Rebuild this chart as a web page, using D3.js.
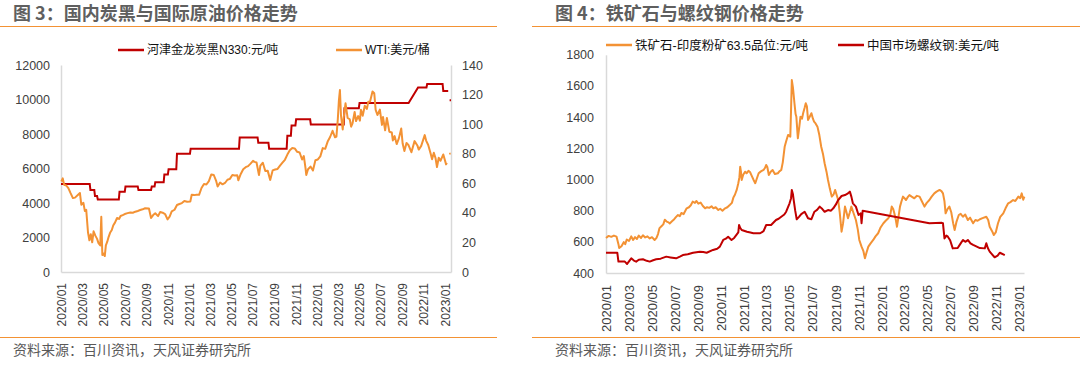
<!DOCTYPE html>
<html><head><meta charset="utf-8">
<script src="https://cdn.jsdelivr.net/npm/d3@7"></script>
<style>
body{margin:0;background:#fff;}
svg{display:block;font-family:"Liberation Sans",Arial,"Noto Sans CJK SC",sans-serif;}
</style></head><body><svg id="c" width="1080" height="366"></svg>
<script>
// ---------- DATA ----------
const monthTicks = ["2020/01","2020/03","2020/05","2020/07","2020/09","2020/11","2021/01","2021/03","2021/05","2021/07","2021/09","2021/11","2022/01","2022/03","2022/05","2022/07","2022/09","2022/11","2023/01"];
const carbonTicks = [0,2000,4000,6000,8000,10000,12000];
const wtiTicks = [0,20,40,60,80,100,120,140];
const ironTicks = [400,600,800,1000,1200,1400,1600,1800];

const leftTitle = "图 3：国内炭黑与国际原油价格走势";
const rightTitle = "图 4：铁矿石与螺纹钢价格走势";
const sourceText = "资料来源：百川资讯，天风证券研究所";
const carbonName = "河津金龙炭黑N330:元/吨";
const wtiName = "WTI:美元/桶";
const ironName = "铁矿石-印度粉矿63.5品位:元/吨";
const rebarName = "中国市场螺纹钢:美元/吨";

// 河津金龙炭黑N330 (元/吨)
const carbonBlack = [["2020-01-01",5100],["2020-03-23",5100],["2020-03-25",4750],["2020-04-05",4750],["2020-04-07",4400],["2020-04-13",4400],["2020-04-15",4200],["2020-06-14",4200],["2020-06-16",4650],["2020-07-01",4650],["2020-07-03",4950],["2020-08-07",4950],["2020-08-09",4750],["2020-09-14",4750],["2020-09-16",4950],["2020-09-24",4950],["2020-09-26",5200],["2020-10-20",5200],["2020-10-22",5650],["2020-11-01",5650],["2020-11-03",5950],["2020-11-25",5950],["2020-11-27",6850],["2021-01-03",6850],["2021-01-05",7150],["2021-05-23",7150],["2021-05-25",7800],["2021-07-15",7800],["2021-07-17",7500],["2021-08-15",7500],["2021-08-17",7150],["2021-10-06",7150],["2021-10-08",7900],["2021-10-18",7900],["2021-10-20",8500],["2021-10-31",8500],["2021-11-02",8850],["2021-12-12",8850],["2021-12-14",8550],["2022-03-18",8550],["2022-03-20",9500],["2022-04-30",9500],["2022-05-02",9800],["2022-09-19",9800],["2022-10-16",10700],["2022-11-09",10700],["2022-11-11",10900],["2022-12-25",10900],["2022-12-27",10500],["2023-01-10",10500],["2023-01-12",null],["2023-01-14",9950],["2023-01-18",9950]];

// WTI (美元/桶)
const wti = [["2020-01-02",61.2],["2020-01-06",63.3],["2020-01-10",59.0],["2020-01-16",58.5],["2020-01-22",56.7],["2020-01-28",53.5],["2020-02-04",50.0],["2020-02-10",50.3],["2020-02-18",52.1],["2020-02-24",53.4],["2020-02-28",45.5],["2020-03-05",46.8],["2020-03-09",41.3],["2020-03-13",42.0],["2020-03-18",26.9],["2020-03-22",21.5],["2020-03-26",25.5],["2020-03-30",20.1],["2020-04-03",27.5],["2020-04-08",24.6],["2020-04-13",22.4],["2020-04-17",19.5],["2020-04-22",18.0],["2020-04-25",37.4],["2020-04-28",11.5],["2020-05-02",12.5],["2020-05-05",10.8],["2020-05-08",18.0],["2020-05-12",20.5],["2020-05-16",23.8],["2020-05-20",26.5],["2020-05-25",28.4],["2020-05-29",31.5],["2020-06-03",33.4],["2020-06-09",36.5],["2020-06-15",35.9],["2020-06-19",37.9],["2020-06-25",38.5],["2020-07-01",39.2],["2020-07-09",39.8],["2020-07-17",40.3],["2020-07-24",40.1],["2020-07-31",40.8],["2020-08-07",41.3],["2020-08-14",41.9],["2020-08-21",42.4],["2020-08-28",43.1],["2020-09-08",43.0],["2020-09-14",36.5],["2020-09-20",38.5],["2020-09-26",39.7],["2020-10-04",37.8],["2020-10-10",40.6],["2020-10-17",40.1],["2020-10-24",39.2],["2020-10-31",35.6],["2020-11-06",37.5],["2020-11-12",41.0],["2020-11-20",42.1],["2020-11-27",45.3],["2020-12-04",46.0],["2020-12-11",46.6],["2020-12-18",48.0],["2020-12-26",47.5],["2021-01-04",47.6],["2021-01-08",52.2],["2021-01-15",52.0],["2021-01-22",52.3],["2021-01-29",52.2],["2021-02-05",56.8],["2021-02-12",59.5],["2021-02-19",59.2],["2021-02-26",61.5],["2021-03-05",66.0],["2021-03-12",65.6],["2021-03-19",61.4],["2021-03-23",57.8],["2021-03-30",60.5],["2021-04-06",59.3],["2021-04-13",60.2],["2021-04-20",62.4],["2021-04-27",63.0],["2021-05-04",65.6],["2021-05-11",65.3],["2021-05-18",65.5],["2021-05-21",62.0],["2021-05-28",66.3],["2021-06-04",69.5],["2021-06-11",70.9],["2021-06-18",71.6],["2021-06-25",73.3],["2021-07-02",75.2],["2021-07-06",74.5],["2021-07-12",74.1],["2021-07-19",65.6],["2021-07-23",72.0],["2021-07-30",73.9],["2021-08-06",68.3],["2021-08-13",68.4],["2021-08-20",62.3],["2021-08-27",68.7],["2021-09-03",69.3],["2021-09-10",69.7],["2021-09-17",71.9],["2021-09-24",73.9],["2021-10-01",75.9],["2021-10-08",79.4],["2021-10-15",82.3],["2021-10-22",83.8],["2021-10-29",83.6],["2021-11-05",81.3],["2021-11-12",80.8],["2021-11-19",76.1],["2021-11-24",78.4],["2021-11-29",69.9],["2021-12-01",65.6],["2021-12-06",69.5],["2021-12-13",71.3],["2021-12-20",68.6],["2021-12-27",75.6],["2022-01-03",76.1],["2022-01-10",78.2],["2022-01-17",83.8],["2022-01-24",83.3],["2022-01-31",88.2],["2022-02-07",91.3],["2022-02-14",95.5],["2022-02-21",91.1],["2022-02-25",91.6],["2022-03-01",103.4],["2022-03-04",115.7],["2022-03-07",123.1],["2022-03-10",106.0],["2022-03-15",96.4],["2022-03-18",104.7],["2022-03-23",114.1],["2022-03-29",104.2],["2022-04-04",103.3],["2022-04-08",98.3],["2022-04-12",100.6],["2022-04-18",108.2],["2022-04-22",102.1],["2022-04-28",105.4],["2022-05-03",102.4],["2022-05-06",109.8],["2022-05-11",105.7],["2022-05-17",112.4],["2022-05-23",110.3],["2022-05-27",115.1],["2022-06-01",115.3],["2022-06-08",122.1],["2022-06-13",120.9],["2022-06-17",109.6],["2022-06-22",106.2],["2022-06-29",109.8],["2022-07-05",99.5],["2022-07-08",104.8],["2022-07-14",95.8],["2022-07-19",104.2],["2022-07-26",94.9],["2022-08-02",94.4],["2022-08-05",89.0],["2022-08-10",91.9],["2022-08-16",86.5],["2022-08-22",90.2],["2022-08-29",97.0],["2022-09-02",86.9],["2022-09-07",81.9],["2022-09-13",87.3],["2022-09-19",85.7],["2022-09-27",81.0],["2022-10-06",88.5],["2022-10-14",85.6],["2022-10-18",82.8],["2022-10-25",85.3],["2022-11-04",92.6],["2022-11-08",88.9],["2022-11-14",85.9],["2022-11-21",80.0],["2022-11-25",76.3],["2022-11-30",80.6],["2022-12-05",76.9],["2022-12-09",71.0],["2022-12-14",77.3],["2022-12-19",75.2],["2022-12-27",79.5],["2023-01-04",72.8],["2023-01-06",73.8],["2023-01-10",null],["2023-01-13",79.9],["2023-01-17",80.2]];

// 铁矿石-印度粉矿63.5品位 (元/吨)
const ironOre = [["2020-01-01",625],["2020-01-08",638],["2020-01-15",632],["2020-01-22",640],["2020-01-29",633],["2020-02-03",585],["2020-02-05",560],["2020-02-11",572],["2020-02-17",598],["2020-02-21",585],["2020-02-25",615],["2020-03-02",605],["2020-03-08",635],["2020-03-13",612],["2020-03-18",630],["2020-03-23",618],["2020-03-28",640],["2020-04-03",625],["2020-04-08",642],["2020-04-14",628],["2020-04-20",635],["2020-04-26",622],["2020-05-02",630],["2020-05-09",612],["2020-05-14",625],["2020-05-18",650],["2020-05-22",688],["2020-05-27",700],["2020-06-01",712],["2020-06-05",742],["2020-06-10",730],["2020-06-15",725],["2020-06-18",718],["2020-06-24",732],["2020-06-30",745],["2020-07-05",760],["2020-07-10",772],["2020-07-15",765],["2020-07-19",785],["2020-07-25",778],["2020-08-02",815],["2020-08-08",822],["2020-08-13",835],["2020-08-18",858],["2020-08-24",850],["2020-08-28",862],["2020-09-02",845],["2020-09-08",852],["2020-09-14",830],["2020-09-20",815],["2020-09-25",822],["2020-10-01",818],["2020-10-07",828],["2020-10-12",815],["2020-10-18",822],["2020-10-25",804],["2020-10-30",812],["2020-11-05",800],["2020-11-12",815],["2020-11-18",822],["2020-11-25",838],["2020-11-30",850],["2020-12-04",885],["2020-12-08",902],["2020-12-13",935],["2020-12-17",976],["2020-12-20",1015],["2020-12-22",1082],["2020-12-24",1050],["2020-12-26",997],["2020-12-30",1030],["2021-01-04",1050],["2021-01-08",1040],["2021-01-13",1055],["2021-01-17",1048],["2021-01-22",1022],["2021-01-27",995],["2021-01-31",976],["2021-02-04",1005],["2021-02-09",1040],["2021-02-15",1052],["2021-02-22",1061],["2021-02-26",1075],["2021-03-01",1093],["2021-03-04",1080],["2021-03-08",1029],["2021-03-13",1050],["2021-03-18",1061],["2021-03-24",1035],["2021-04-01",1040],["2021-04-05",1052],["2021-04-10",1061],["2021-04-14",1110],["2021-04-19",1210],["2021-04-23",1245],["2021-04-28",1286],["2021-05-04",1275],["2021-05-06",1450],["2021-05-08",1638],["2021-05-11",1590],["2021-05-15",1489],["2021-05-18",1420],["2021-05-20",1403],["2021-05-24",1264],["2021-05-28",1340],["2021-05-31",1403],["2021-06-04",1390],["2021-06-07",1425],["2021-06-11",1460],["2021-06-14",1489],["2021-06-17",1470],["2021-06-20",1382],["2021-06-24",1400],["2021-06-29",1425],["2021-07-03",1390],["2021-07-06",1371],["2021-07-10",1360],["2021-07-15",1339],["2021-07-20",1285],["2021-07-25",1210],["2021-07-30",1160],["2021-08-03",1104],["2021-08-08",1050],["2021-08-12",997],["2021-08-17",940],["2021-08-22",890],["2021-08-27",905],["2021-08-31",933],["2021-09-04",900],["2021-09-08",868],["2021-09-12",790],["2021-09-17",665],["2021-09-21",720],["2021-09-26",826],["2021-09-30",790],["2021-10-04",751],["2021-10-09",790],["2021-10-13",826],["2021-10-18",790],["2021-10-25",740],["2021-10-30",680],["2021-11-03",612],["2021-11-09",569],["2021-11-14",540],["2021-11-18",494],["2021-11-22",530],["2021-11-27",569],["2021-12-03",590],["2021-12-10",612],["2021-12-16",635],["2021-12-23",655],["2021-12-29",690],["2022-01-06",719],["2022-01-12",735],["2022-01-19",751],["2022-01-24",770],["2022-01-28",826],["2022-02-01",810],["2022-02-04",783],["2022-02-08",740],["2022-02-11",697],["2022-02-15",760],["2022-02-19",826],["2022-02-23",860],["2022-02-27",890],["2022-03-03",880],["2022-03-07",868],["2022-03-11",885],["2022-03-16",900],["2022-03-22",890],["2022-03-29",879],["2022-04-05",895],["2022-04-12",890],["2022-04-18",860],["2022-04-25",826],["2022-05-01",850],["2022-05-08",868],["2022-05-14",890],["2022-05-21",911],["2022-05-27",922],["2022-06-04",933],["2022-06-09",925],["2022-06-13",911],["2022-06-17",860],["2022-06-20",783],["2022-06-25",810],["2022-06-30",826],["2022-07-05",790],["2022-07-10",720],["2022-07-14",676],["2022-07-19",730],["2022-07-25",772],["2022-07-30",780],["2022-08-05",761],["2022-08-11",775],["2022-08-18",740],["2022-08-24",755],["2022-09-01",719],["2022-09-07",740],["2022-09-13",735],["2022-09-19",745],["2022-09-26",752],["2022-10-06",761],["2022-10-11",740],["2022-10-15",697],["2022-10-21",670],["2022-10-26",644],["2022-10-31",660],["2022-11-06",719],["2022-11-12",760],["2022-11-20",783],["2022-11-26",815],["2022-12-03",847],["2022-12-09",855],["2022-12-16",868],["2022-12-22",862],["2022-12-30",890],["2023-01-04",880],["2023-01-08",911],["2023-01-12",870],["2023-01-15",890]];

// 中国市场螺纹钢 (美元/吨)
const rebar = [["2020-01-01",530],["2020-01-31",530],["2020-02-03",473],["2020-02-20",473],["2020-02-26",458],["2020-03-08",494],["2020-03-15",480],["2020-03-21",473],["2020-03-28",485],["2020-04-08",488],["2020-04-18",478],["2020-04-26",473],["2020-05-05",482],["2020-05-13",488],["2020-05-25",492],["2020-06-09",505],["2020-06-20",500],["2020-07-05",494],["2020-07-15",505],["2020-07-23",515],["2020-08-05",520],["2020-08-19",530],["2020-09-06",537],["2020-09-15",535],["2020-09-24",530],["2020-10-11",548],["2020-10-22",556],["2020-10-29",569],["2020-11-07",612],["2020-11-14",620],["2020-11-20",633],["2020-11-29",612],["2020-12-06",625],["2020-12-12",644],["2020-12-17",660],["2020-12-19",708],["2020-12-22",690],["2020-12-26",676],["2021-01-09",665],["2021-01-18",660],["2021-01-26",655],["2021-02-13",655],["2021-02-22",668],["2021-03-01",708],["2021-03-14",708],["2021-03-27",740],["2021-04-03",748],["2021-04-10",761],["2021-04-18",775],["2021-04-23",793],["2021-05-02",847],["2021-05-06",880],["2021-05-08",933],["2021-05-11",905],["2021-05-13",868],["2021-05-17",800],["2021-05-21",745],["2021-05-27",760],["2021-06-02",778],["2021-06-11",793],["2021-06-16",770],["2021-06-20",751],["2021-06-29",745],["2021-07-07",793],["2021-07-14",805],["2021-07-21",826],["2021-07-28",810],["2021-08-03",793],["2021-08-12",804],["2021-08-20",800],["2021-08-26",815],["2021-09-02",840],["2021-09-08",868],["2021-09-17",894],["2021-09-26",900],["2021-10-04",911],["2021-10-09",922],["2021-10-13",890],["2021-10-17",847],["2021-10-25",826],["2021-11-01",772],["2021-11-07",783],["2021-11-09",719],["2021-11-12",800],["2022-05-08",719],["2022-06-10",722],["2022-06-13",719],["2022-06-17",622],["2022-06-22",640],["2022-06-26",633],["2022-07-02",610],["2022-07-09",558],["2022-07-22",560],["2022-07-30",590],["2022-08-05",612],["2022-08-12",600],["2022-08-18",612],["2022-08-25",590],["2022-09-01",580],["2022-09-19",560],["2022-10-02",558],["2022-10-06",591],["2022-10-10",560],["2022-10-15",537],["2022-10-28",501],["2022-11-05",512],["2022-11-11",530],["2022-11-24",515]];

// ---------- DRAW ----------
const RED = "#c00000", ORANGE = "#f39234", RULE = "#f39234", AXIS = "#d9d9d9", TXT = "#404040", GREY = "#595959";
const pd = d3.timeParse("%Y-%m-%d");
const pm = d3.timeParse("%Y/%m");
const prep = arr => arr.map(d => ({date: pd(d[0]), v: d[1]}));
const fmt = d3.format("d");
const svg = d3.select("#c");

function panel(o) {
  const g = svg.append("g");
  g.append("text").attr("x", o.titleX).attr("y", 20).attr("font-size", 18).attr("font-weight", "bold")
    .attr("fill", "#5f5f5f").attr("font-family", "'Noto Sans CJK SC',sans-serif").text(o.title);
  g.append("line").attr("x1", o.ruleX1).attr("x2", o.ruleX2).attr("y1", 26.5).attr("y2", 26.5).attr("stroke", RULE).attr("stroke-width", 1.2);
  g.append("line").attr("x1", o.ruleX1).attr("x2", o.ruleX2).attr("y1", 337.5).attr("y2", 337.5).attr("stroke", RULE).attr("stroke-width", 1.2);
  g.append("text").attr("x", o.titleX).attr("y", 355).attr("font-size", 14).attr("fill", GREY)
    .attr("font-family", "'Noto Sans CJK SC',sans-serif").text(sourceText);
  return g;
}

function styleAxis(sel, fs) {
  sel.select(".domain").attr("stroke", AXIS).attr("stroke-width", 1.5);
  sel.selectAll(".tick line").remove();
  sel.selectAll("text").attr("fill", TXT).attr("font-size", fs)
    .attr("font-family", "'Liberation Sans',Arial,sans-serif");
}

function bottomAxis(g, x, y0, fs, pad) {
  const ax = g.append("g").attr("transform", `translate(0,${y0})`)
    .call(d3.axisBottom(x).tickValues(monthTicks.map(pm)).tickFormat(d3.timeFormat("%Y/%m")).tickSize(0).tickSizeOuter(0));
  styleAxis(ax, fs);
  ax.selectAll("text").attr("transform", "rotate(-90)").attr("text-anchor", "end")
    .attr("x", -pad).attr("y", 0).attr("dy", "0.36em");
}

function legendItem(g, x, y, color, label, fs) {
  g.append("line").attr("x1", x).attr("x2", x + 26).attr("y1", y).attr("y2", y).attr("stroke", color).attr("stroke-width", 2.5);
  g.append("text").attr("x", x + 29).attr("y", y).attr("dy", "0.36em").attr("font-size", fs).attr("fill", "#111")
    .attr("font-family", "'Liberation Sans',Arial,'Noto Sans CJK SC',sans-serif").text(label);
}

// ----- Left panel -----
{
  const g = panel({title: leftTitle, titleX: 13, ruleX1: 0, ruleX2: 497});
  const x = d3.scaleTime().domain([pd("2020-01-01"), pd("2023-01-18")]).range([61, 451]);
  const yL = d3.scaleLinear().domain([0, 12000]).range([272, 65]);
  const yR = d3.scaleLinear().domain([0, 140]).range([272, 65]);

  const axL = g.append("g").attr("transform", "translate(61,0)")
    .call(d3.axisLeft(yL).tickValues(carbonTicks).tickFormat(fmt).tickSize(0).tickSizeOuter(0).tickPadding(11));
  styleAxis(axL, 12.5);
  const axR = g.append("g").attr("transform", "translate(451,0)")
    .call(d3.axisRight(yR).tickValues(wtiTicks).tickFormat(fmt).tickSize(0).tickSizeOuter(0).tickPadding(11));
  styleAxis(axR, 12.5);
  bottomAxis(g, x, 272, 12, 11);

  const lineL = d3.line().defined(d => d.v != null).x(d => x(d.date)).y(d => yL(d.v));
  const lineR = d3.line().defined(d => d.v != null).x(d => x(d.date)).y(d => yR(d.v));
  g.append("path").datum(prep(carbonBlack)).attr("d", lineL).attr("fill", "none").attr("stroke", RED).attr("stroke-width", 2);
  g.append("path").datum(prep(wti)).attr("d", lineR).attr("fill", "none").attr("stroke", ORANGE).attr("stroke-width", 2).attr("stroke-linejoin", "round");

  legendItem(g, 118, 50, RED, carbonName, 12);
  legendItem(g, 336, 50, ORANGE, wtiName, 12);
}

// ----- Right panel -----
{
  const g = panel({title: rightTitle, titleX: 555, ruleX1: 532, ruleX2: 1080});
  const x = d3.scaleTime().domain([pd("2020-01-01"), pd("2023-01-14")]).range([606, 1024]);
  const y = d3.scaleLinear().domain([400, 1800]).range([273, 54.8]);

  const axL = g.append("g").attr("transform", "translate(606,0)")
    .call(d3.axisLeft(y).tickValues(ironTicks).tickFormat(fmt).tickSize(0).tickSizeOuter(0).tickPadding(12));
  styleAxis(axL, 12.5);
  bottomAxis(g, x, 273, 13, 12);

  const line = d3.line().defined(d => d.v != null).x(d => x(d.date)).y(d => y(d.v));
  g.append("path").datum(prep(ironOre)).attr("d", line).attr("fill", "none").attr("stroke", ORANGE).attr("stroke-width", 2).attr("stroke-linejoin", "round");
  g.append("path").datum(prep(rebar)).attr("d", line).attr("fill", "none").attr("stroke", RED).attr("stroke-width", 2).attr("stroke-linejoin", "round");

  legendItem(g, 606, 45, ORANGE, ironName, 12.5);
  legendItem(g, 838, 45, RED, rebarName, 12.5);
}
</script></body></html>
